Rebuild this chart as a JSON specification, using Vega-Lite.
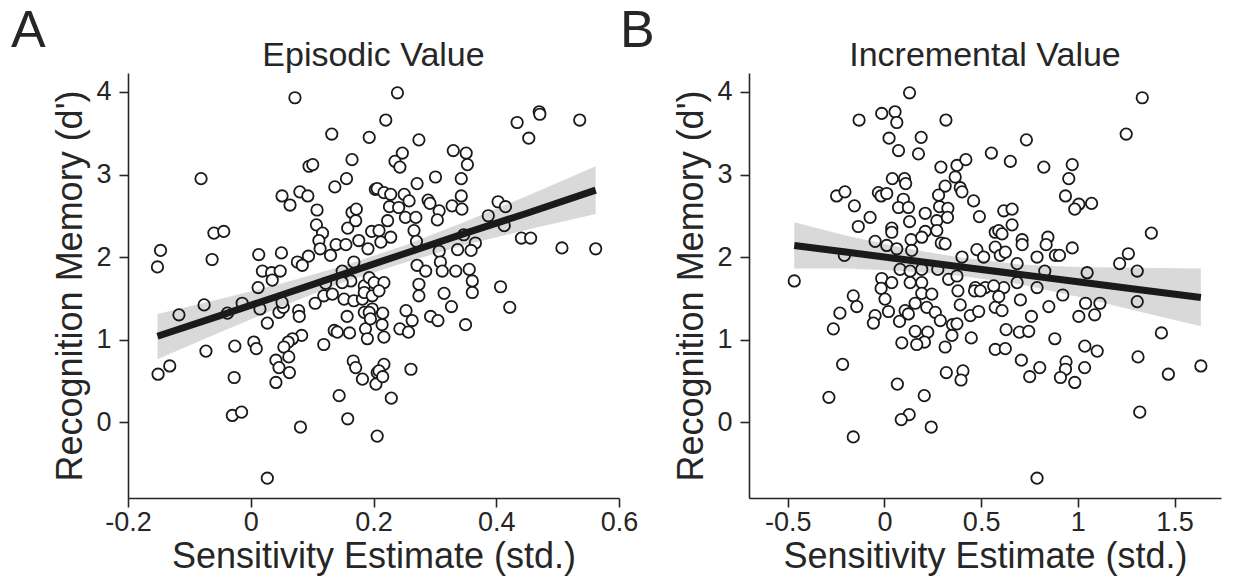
{
  "$schema": "https://vega.github.io/schema/vega-lite/v6.json",
  "padding": {"left": 10, "top": 5, "right": 5, "bottom": 5},
  "background": "white",
  "datasets": {
    "ptsA": [
      {"x":0.072,"y":3.93},{"x":0.132,"y":3.49},{"x":0.193,"y":3.45},{"x":0.165,"y":3.18},{"x":-0.081,"y":2.95},{"x":0.095,"y":3.10},{"x":0.101,"y":3.12},{"x":0.156,"y":2.95},{"x":0.137,"y":2.85},{"x":0.203,"y":2.82},
      {"x":0.051,"y":2.74},{"x":0.064,"y":2.63},{"x":0.080,"y":2.79},{"x":0.093,"y":2.74},{"x":0.108,"y":2.57},{"x":0.165,"y":2.54},{"x":0.172,"y":2.58},{"x":0.107,"y":2.39},{"x":0.117,"y":2.29},{"x":0.111,"y":2.20},
      {"x":0.158,"y":2.35},{"x":0.171,"y":2.44},{"x":0.197,"y":2.31},{"x":0.176,"y":2.20},{"x":0.139,"y":2.15},{"x":0.155,"y":2.15},{"x":0.191,"y":2.10},{"x":0.113,"y":2.10},{"x":0.130,"y":2.02},{"x":0.094,"y":2.01},
      {"x":0.076,"y":1.94},{"x":0.084,"y":1.90},{"x":0.013,"y":2.03},{"x":0.050,"y":2.05},{"x":0.019,"y":1.83},{"x":0.034,"y":1.81},{"x":0.048,"y":1.83},{"x":0.012,"y":1.63},{"x":0.035,"y":1.72},{"x":-0.060,"y":2.29},
      {"x":-0.044,"y":2.31},{"x":-0.147,"y":2.08},{"x":-0.152,"y":1.88},{"x":-0.063,"y":1.97},{"x":0.168,"y":1.94},{"x":0.149,"y":1.83},{"x":0.163,"y":1.71},{"x":0.185,"y":1.65},
      {"x":0.239,"y":3.99},{"x":0.220,"y":3.66},{"x":0.274,"y":3.42},{"x":0.434,"y":3.63},{"x":0.470,"y":3.76},{"x":0.471,"y":3.73},{"x":0.453,"y":3.44},{"x":0.536,"y":3.66},{"x":0.330,"y":3.29},{"x":0.351,"y":3.26},
      {"x":0.353,"y":3.12},{"x":0.247,"y":3.26},{"x":0.235,"y":3.16},{"x":0.243,"y":3.09},{"x":0.301,"y":2.97},{"x":0.343,"y":2.95},{"x":0.271,"y":2.89},{"x":0.206,"y":2.83},{"x":0.217,"y":2.78},{"x":0.228,"y":2.76},
      {"x":0.250,"y":2.76},{"x":0.258,"y":2.68},{"x":0.289,"y":2.69},{"x":0.292,"y":2.65},{"x":0.307,"y":2.56},{"x":0.304,"y":2.45},{"x":0.343,"y":2.74},{"x":0.328,"y":2.62},{"x":0.344,"y":2.58},{"x":0.226,"y":2.61},
      {"x":0.241,"y":2.60},{"x":0.252,"y":2.48},{"x":0.269,"y":2.48},{"x":0.223,"y":2.44},{"x":0.266,"y":2.32},{"x":0.270,"y":2.19},{"x":0.228,"y":2.24},{"x":0.209,"y":2.32},{"x":0.212,"y":2.18},{"x":0.403,"y":2.67},
      {"x":0.415,"y":2.61},{"x":0.387,"y":2.50},{"x":0.413,"y":2.38},{"x":0.347,"y":2.27},{"x":0.366,"y":2.17},{"x":0.359,"y":2.08},{"x":0.337,"y":2.09},{"x":0.307,"y":2.07},{"x":0.441,"y":2.23},{"x":0.456,"y":2.23},
      {"x":0.507,"y":2.11},{"x":0.562,"y":2.10},{"x":0.271,"y":1.90},{"x":0.285,"y":1.83},{"x":0.309,"y":1.94},{"x":0.312,"y":1.83},{"x":0.334,"y":1.83},{"x":0.356,"y":1.85},{"x":0.193,"y":1.75},
      {"x":-0.117,"y":1.30},{"x":-0.076,"y":1.42},{"x":-0.014,"y":1.44},{"x":-0.038,"y":1.32},{"x":0.015,"y":1.37},{"x":0.027,"y":1.20},{"x":0.046,"y":1.33},{"x":0.053,"y":1.39},{"x":0.051,"y":1.45},{"x":0.078,"y":1.35},
      {"x":0.079,"y":1.28},{"x":0.105,"y":1.44},{"x":0.119,"y":1.53},{"x":0.133,"y":1.55},{"x":0.152,"y":1.49},{"x":0.168,"y":1.47},{"x":0.182,"y":1.49},{"x":0.185,"y":1.33},{"x":0.198,"y":1.37},{"x":0.157,"y":1.28},
      {"x":0.187,"y":1.13},{"x":0.190,"y":1.01},{"x":0.136,"y":1.11},{"x":0.141,"y":1.09},{"x":0.161,"y":1.08},{"x":0.119,"y":0.94},{"x":0.083,"y":1.05},{"x":0.068,"y":1.01},{"x":0.061,"y":0.97},{"x":0.054,"y":0.91},
      {"x":0.062,"y":0.79},{"x":0.041,"y":0.75},{"x":0.046,"y":0.66},{"x":0.063,"y":0.60},{"x":0.041,"y":0.48},{"x":0.005,"y":0.97},{"x":0.009,"y":0.89},{"x":-0.026,"y":0.92},{"x":-0.073,"y":0.86},{"x":-0.027,"y":0.54},
      {"x":-0.132,"y":0.68},{"x":-0.151,"y":0.58},{"x":-0.030,"y":0.08},{"x":-0.015,"y":0.12},{"x":0.081,"y":-0.06},{"x":0.144,"y":0.32},{"x":0.158,"y":0.04},{"x":0.206,"y":-0.17},{"x":0.027,"y":-0.68},{"x":0.167,"y":0.74},
      {"x":0.171,"y":0.66},{"x":0.182,"y":0.52},{"x":0.204,"y":0.46},{"x":0.206,"y":0.60},{"x":0.122,"y":1.68},{"x":0.149,"y":1.69},{"x":0.185,"y":1.57},{"x":0.198,"y":1.53},
      {"x":0.274,"y":1.67},{"x":0.274,"y":1.53},{"x":0.315,"y":1.56},{"x":0.361,"y":1.71},{"x":0.361,"y":1.57},{"x":0.407,"y":1.64},{"x":0.422,"y":1.39},{"x":0.327,"y":1.40},{"x":0.293,"y":1.28},{"x":0.305,"y":1.23},
      {"x":0.350,"y":1.18},{"x":0.253,"y":1.35},{"x":0.263,"y":1.23},{"x":0.243,"y":1.13},{"x":0.257,"y":1.09},{"x":0.215,"y":1.32},{"x":0.214,"y":1.18},{"x":0.217,"y":1.03},{"x":0.193,"y":1.33},{"x":0.195,"y":1.25},
      {"x":0.201,"y":1.69},{"x":0.217,"y":1.69},{"x":0.209,"y":1.59},{"x":0.217,"y":0.70},{"x":0.209,"y":0.62},{"x":0.215,"y":0.55},{"x":0.261,"y":0.64},{"x":0.229,"y":0.29}
    ],
    "fitA": [
      {"x":-0.152,"fit":1.04,"lo":0.76,"hi":1.31},
      {"x":-0.05,"fit":1.29,"lo":1.09,"hi":1.49},
      {"x":0.05,"fit":1.54,"lo":1.40,"hi":1.68},
      {"x":0.15,"fit":1.79,"lo":1.69,"hi":1.89},
      {"x":0.25,"fit":2.04,"lo":1.93,"hi":2.14},
      {"x":0.35,"fit":2.29,"lo":2.15,"hi":2.43},
      {"x":0.45,"fit":2.53,"lo":2.33,"hi":2.74},
      {"x":0.562,"fit":2.81,"lo":2.52,"hi":3.10}
    ],
    "ptsB": [
      {"x":0.130,"y":3.99},{"x":-0.131,"y":3.66},{"x":-0.014,"y":3.74},{"x":0.055,"y":3.76},{"x":0.064,"y":3.63},{"x":0.318,"y":3.66},{"x":0.024,"y":3.44},{"x":0.190,"y":3.45},{"x":0.073,"y":3.29},{"x":0.176,"y":3.25},
      {"x":0.553,"y":3.26},{"x":0.292,"y":3.09},{"x":0.375,"y":3.11},{"x":0.421,"y":3.18},{"x":0.366,"y":2.97},{"x":0.041,"y":2.95},{"x":0.104,"y":2.95},{"x":0.110,"y":2.89},{"x":0.314,"y":2.86},{"x":0.392,"y":2.84},
      {"x":0.401,"y":2.79},{"x":-0.247,"y":2.74},{"x":-0.204,"y":2.79},{"x":-0.155,"y":2.62},{"x":-0.031,"y":2.78},{"x":-0.017,"y":2.74},{"x":0.012,"y":2.77},{"x":0.098,"y":2.70},{"x":0.073,"y":2.60},{"x":0.124,"y":2.60},
      {"x":0.280,"y":2.75},{"x":0.285,"y":2.61},{"x":0.328,"y":2.59},{"x":0.461,"y":2.68},{"x":0.491,"y":2.49},{"x":-0.074,"y":2.48},{"x":-0.135,"y":2.37},{"x":0.038,"y":2.35},{"x":0.038,"y":2.30},{"x":0.130,"y":2.43},
      {"x":0.211,"y":2.53},{"x":0.271,"y":2.44},{"x":0.326,"y":2.48},{"x":0.211,"y":2.31},{"x":0.271,"y":2.32},{"x":-0.048,"y":2.19},{"x":0.012,"y":2.14},{"x":0.064,"y":2.10},{"x":0.138,"y":2.21},{"x":0.141,"y":2.08},
      {"x":0.193,"y":2.24},{"x":0.294,"y":2.17},{"x":0.314,"y":2.16},{"x":0.573,"y":2.30},{"x":0.573,"y":2.12},{"x":0.478,"y":2.09},{"x":0.513,"y":2.00},{"x":0.401,"y":2.00},{"x":-0.207,"y":2.02},{"x":-0.466,"y":1.71},
      {"x":0.081,"y":1.85},{"x":0.133,"y":1.83},{"x":0.193,"y":1.85},{"x":0.276,"y":1.85},{"x":0.332,"y":1.73},{"x":0.375,"y":1.77},{"x":-0.014,"y":1.74},{"x":0.038,"y":1.69},{"x":0.133,"y":1.69},{"x":0.193,"y":1.69},
      {"x":0.470,"y":1.63},{"x":0.522,"y":1.63},
      {"x":1.333,"y":3.93},{"x":1.250,"y":3.49},{"x":0.734,"y":3.42},{"x":0.651,"y":3.16},{"x":0.824,"y":3.09},{"x":0.971,"y":3.12},{"x":0.953,"y":2.95},{"x":0.936,"y":2.74},{"x":1.005,"y":2.64},{"x":0.984,"y":2.58},
      {"x":1.071,"y":2.65},{"x":0.617,"y":2.56},{"x":0.660,"y":2.58},{"x":0.660,"y":2.39},{"x":0.591,"y":2.32},{"x":0.608,"y":2.28},{"x":0.599,"y":2.02},{"x":0.625,"y":2.06},{"x":0.712,"y":2.21},{"x":0.712,"y":2.15},
      {"x":0.845,"y":2.24},{"x":0.836,"y":2.15},{"x":0.789,"y":2.00},{"x":0.884,"y":2.02},{"x":0.905,"y":2.02},{"x":0.971,"y":2.11},{"x":1.380,"y":2.29},{"x":1.261,"y":2.04},{"x":1.216,"y":1.92},{"x":1.307,"y":1.83},
      {"x":0.686,"y":1.92},{"x":0.829,"y":1.83},{"x":1.048,"y":1.81},{"x":0.686,"y":1.69},{"x":0.617,"y":1.63},{"x":0.789,"y":1.63},
      {"x":-0.161,"y":1.53},{"x":-0.143,"y":1.40},{"x":-0.230,"y":1.32},{"x":-0.264,"y":1.13},{"x":-0.048,"y":1.29},{"x":-0.057,"y":1.20},{"x":-0.017,"y":1.62},{"x":0.003,"y":1.49},{"x":0.021,"y":1.34},{"x":0.107,"y":1.35},
      {"x":0.078,"y":1.22},{"x":0.124,"y":1.31},{"x":0.159,"y":1.44},{"x":0.219,"y":1.39},{"x":0.193,"y":1.56},{"x":0.245,"y":1.55},{"x":0.263,"y":1.33},{"x":0.289,"y":1.23},{"x":0.352,"y":1.18},{"x":0.375,"y":1.19},
      {"x":0.392,"y":1.42},{"x":0.444,"y":1.29},{"x":0.487,"y":1.34},{"x":0.380,"y":1.59},{"x":0.466,"y":1.59},{"x":0.496,"y":1.59},{"x":0.159,"y":1.10},{"x":0.224,"y":1.09},{"x":0.207,"y":0.97},{"x":0.167,"y":0.94},
      {"x":0.090,"y":0.96},{"x":0.349,"y":1.05},{"x":0.314,"y":0.91},{"x":0.449,"y":1.02},{"x":0.573,"y":1.39},{"x":0.573,"y":0.88},{"x":-0.216,"y":0.70},{"x":-0.287,"y":0.30},{"x":0.067,"y":0.46},{"x":0.320,"y":0.60},
      {"x":0.406,"y":0.62},{"x":0.396,"y":0.51},{"x":0.206,"y":0.32},{"x":0.128,"y":0.09},{"x":0.087,"y":0.03},{"x":0.242,"y":-0.06},{"x":-0.161,"y":-0.18},
      {"x":1.307,"y":1.46},{"x":0.565,"y":1.65},{"x":0.591,"y":1.52},{"x":0.608,"y":1.35},{"x":0.703,"y":1.48},{"x":0.922,"y":1.54},{"x":0.850,"y":1.40},{"x":1.040,"y":1.44},{"x":1.114,"y":1.44},{"x":1.005,"y":1.28},
      {"x":1.087,"y":1.30},{"x":0.760,"y":1.28},{"x":0.629,"y":1.12},{"x":0.698,"y":1.09},{"x":0.746,"y":1.10},{"x":0.881,"y":1.01},{"x":0.625,"y":0.89},{"x":1.036,"y":0.92},{"x":1.100,"y":0.86},{"x":0.708,"y":0.75},
      {"x":0.803,"y":0.66},{"x":0.751,"y":0.55},{"x":0.939,"y":0.73},{"x":0.936,"y":0.64},{"x":0.910,"y":0.54},{"x":0.984,"y":0.48},{"x":1.035,"y":0.66},{"x":1.432,"y":1.08},{"x":1.311,"y":0.79},{"x":1.468,"y":0.58},
      {"x":1.636,"y":0.68},{"x":1.320,"y":0.12},{"x":0.789,"y":-0.68}
    ],
    "fitB": [
      {"x":-0.466,"fit":2.14,"lo":1.86,"hi":2.42},
      {"x":-0.2,"fit":2.06,"lo":1.86,"hi":2.26},
      {"x":0.1,"fit":1.97,"lo":1.83,"hi":2.11},
      {"x":0.4,"fit":1.88,"lo":1.77,"hi":1.99},
      {"x":0.7,"fit":1.79,"lo":1.67,"hi":1.91},
      {"x":1.0,"fit":1.70,"lo":1.52,"hi":1.88},
      {"x":1.3,"fit":1.61,"lo":1.35,"hi":1.87},
      {"x":1.636,"fit":1.51,"lo":1.16,"hi":1.86}
    ]
  },
  "config": {
    "font": "Liberation Sans",
    "view": {"stroke": null},
    "axis": {
      "grid": false, "domainColor": "#262626", "domainWidth": 1.6, "tickColor": "#262626", "tickWidth": 1.6, "tickSize": 9,
      "labelFontSize": 27, "labelColor": "#262626", "labelFont": "Liberation Sans", "labelFlush": false, "labelOverlap": false,
      "titleFontSize": 36, "titleFontWeight": "normal", "titleColor": "#262626", "titleFont": "Liberation Sans"
    },
    "axisX": {"labelPadding": 2, "titlePadding": 4},
    "axisY": {"labelPadding": 8, "titlePadding": 6},
    "title": {"fontSize": 34, "fontWeight": "normal", "color": "#262626", "font": "Liberation Sans"}
  },
  "spacing": -19,
  "hconcat": [
    {
      "title": {"text": "A", "anchor": "start", "frame": "bounds", "fontSize": 52, "dx": -42, "dy": 19, "offset": 0},
      "vconcat": [
        {
          "title": {"text": "Episodic Value", "offset": 0},
          "width": 491, "height": 425,
          "layer": [
            {
              "data": {"name": "ptsA"},
              "mark": {"type": "point", "shape": "circle", "filled": true, "fill": "white", "stroke": "#1a1a1a", "strokeWidth": 1.8, "size": 130, "opacity": 1},
              "encoding": {
                "x": {"field": "x", "type": "quantitative", "title": "Sensitivity Estimate (std.)", "scale": {"domain": [-0.2, 0.6], "nice": false, "zero": false}, "axis": {"values": [-0.2, 0, 0.2, 0.4, 0.6], "labelExpr": "toString(datum.value)"}},
                "y": {"field": "y", "type": "quantitative", "title": "Recognition Memory (d')", "scale": {"domain": [-0.92, 4.23], "nice": false, "zero": false}, "axis": {"values": [0, 1, 2, 3, 4], "labelExpr": "toString(datum.value)"}}
              }
            },
            {
              "data": {"name": "fitA"},
              "mark": {"type": "area", "color": "black", "opacity": 0.15},
              "encoding": {
                "x": {"field": "x", "type": "quantitative", "title": "Sensitivity Estimate (std.)", "scale": {"domain": [-0.2, 0.6], "nice": false, "zero": false}},
                "y": {"field": "lo", "type": "quantitative", "title": "Recognition Memory (d')", "scale": {"domain": [-0.92, 4.23], "nice": false, "zero": false}},
                "y2": {"field": "hi"}
              }
            },
            {
              "data": {"name": "fitA"},
              "mark": {"type": "line", "color": "#1a1a1a", "strokeWidth": 7},
              "encoding": {
                "x": {"field": "x", "type": "quantitative", "title": "Sensitivity Estimate (std.)", "scale": {"domain": [-0.2, 0.6], "nice": false, "zero": false}},
                "y": {"field": "fit", "type": "quantitative", "title": "Recognition Memory (d')", "scale": {"domain": [-0.92, 4.23], "nice": false, "zero": false}}
              }
            }
          ]
        }
      ]
    },
    {
      "title": {"text": "B", "anchor": "start", "frame": "bounds", "fontSize": 52, "dx": -54, "dy": 19, "offset": 0},
      "vconcat": [
        {
          "title": {"text": "Incremental Value", "offset": 0},
          "width": 472, "height": 425,
          "layer": [
            {
              "data": {"name": "ptsB"},
              "mark": {"type": "point", "shape": "circle", "filled": true, "fill": "white", "stroke": "#1a1a1a", "strokeWidth": 1.8, "size": 130, "opacity": 1},
              "encoding": {
                "x": {"field": "x", "type": "quantitative", "title": "Sensitivity Estimate (std.)", "scale": {"domain": [-0.7, 1.74], "nice": false, "zero": false}, "axis": {"values": [-0.5, 0, 0.5, 1, 1.5], "labelExpr": "toString(datum.value)"}},
                "y": {"field": "y", "type": "quantitative", "title": "Recognition Memory (d')", "scale": {"domain": [-0.92, 4.23], "nice": false, "zero": false}, "axis": {"values": [0, 1, 2, 3, 4], "labelExpr": "toString(datum.value)"}}
              }
            },
            {
              "data": {"name": "fitB"},
              "mark": {"type": "area", "color": "black", "opacity": 0.15},
              "encoding": {
                "x": {"field": "x", "type": "quantitative", "title": "Sensitivity Estimate (std.)", "scale": {"domain": [-0.7, 1.74], "nice": false, "zero": false}},
                "y": {"field": "lo", "type": "quantitative", "title": "Recognition Memory (d')", "scale": {"domain": [-0.92, 4.23], "nice": false, "zero": false}},
                "y2": {"field": "hi"}
              }
            },
            {
              "data": {"name": "fitB"},
              "mark": {"type": "line", "color": "#1a1a1a", "strokeWidth": 7},
              "encoding": {
                "x": {"field": "x", "type": "quantitative", "title": "Sensitivity Estimate (std.)", "scale": {"domain": [-0.7, 1.74], "nice": false, "zero": false}},
                "y": {"field": "fit", "type": "quantitative", "title": "Recognition Memory (d')", "scale": {"domain": [-0.92, 4.23], "nice": false, "zero": false}}
              }
            }
          ]
        }
      ]
    }
  ]
}
